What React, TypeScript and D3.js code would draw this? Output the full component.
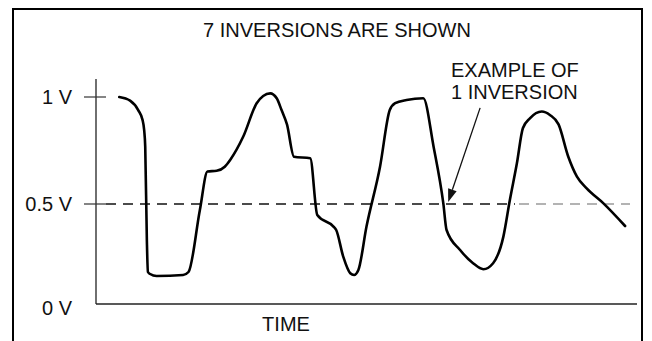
import * as d3 from 'd3';

// Sensor voltage trace (time in arbitrary units 0-100, volts)
const times = [
  4.3, 6.3, 7.8, 8.6, 8.9, 9.1, 9.4, 9.6, 10.0, 11.2, 16.1, 17.1, 19.2, 20.6, 22.3, 23.8,
  24.8, 27.2, 29.7, 30.9, 32.2, 33.4, 34.3, 35.3, 36.6, 39.6, 40.9, 43.9, 44.4, 45.7, 47.0,
  47.7, 48.5, 50.0, 52.5, 54.3, 55.3, 57.4, 60.5, 62.4, 64.2, 64.8, 67.3, 69.7, 71.6, 73.4,
  75.3, 76.5, 77.8, 78.9, 80.2, 82.4, 83.9, 85.5, 87.3, 88.9, 90.7, 93.8, 97.8,
];
const volts = [
  1.0, 0.983, 0.939, 0.893, 0.846, 0.768, 0.32, 0.16, 0.15, 0.14, 0.145, 0.16, 0.47, 0.652,
  0.655, 0.674, 0.706, 0.814, 0.971, 1.005, 1.017, 0.994, 0.939, 0.872, 0.721, 0.714, 0.445,
  0.387, 0.37, 0.237, 0.154, 0.145, 0.17, 0.387, 0.674, 0.939, 0.971, 0.986, 0.994, 0.768,
  0.503, 0.37, 0.27, 0.204, 0.174, 0.204, 0.337, 0.519, 0.69, 0.854, 0.9, 0.932, 0.916, 0.872,
  0.721, 0.628, 0.573, 0.503, 0.39,
];

const yTicks = [0, 0.5, 1];
const yTickLabels = ['0 V', '0.5 V', '1 V'];
const threshold = 0.5;
const title = '7 INVERSIONS ARE SHOWN';
const xTitle = 'TIME';
const noteLines = ['EXAMPLE OF', '1 INVERSION'];
// arrow from the note down to one crossing of the 0.5 V line
const arrowFrom = { t: 71.0, v: 0.949 };
const arrowTo = { t: 65.1, v: 0.509 };

const W = 652;
const H = 341;
const FONT = '"Liberation Sans", Arial, Helvetica, sans-serif';

export default function App() {
  const x = d3.scaleLinear().domain([0, 100]).range([96, 637]);
  // the printed scale is not quite even between 0.5 V and 1 V
  const y = d3.scaleLinear().domain([0, 0.5, 1]).range([304, 204, 97]);

  const data = times.map((t, i) => ({ t, v: volts[i] }));
  const line = d3
    .line<{ t: number; v: number }>()
    .x((d) => x(d.t))
    .y((d) => y(d.v))
    .curve(d3.curveMonotoneX);

  const ax0 = x(0);
  const ax1 = x(100);
  const dashEnd = 630;
  const graySplit = 515;

  // arrowhead geometry
  const x1 = x(arrowFrom.t);
  const y1 = y(arrowFrom.v);
  const x2 = x(arrowTo.t);
  const y2 = y(arrowTo.v);
  const ang = Math.atan2(y2 - y1, x2 - x1);
  const headLen = 13;
  const headW = 4.5;
  const bx = x2 - headLen * Math.cos(ang);
  const by = y2 - headLen * Math.sin(ang);
  const head = [
    [x2, y2],
    [bx + headW * Math.sin(ang), by - headW * Math.cos(ang)],
    [bx - headW * Math.sin(ang), by + headW * Math.cos(ang)],
  ]
    .map((p) => p.join(','))
    .join(' ');

  return (
    <div style={{ position: 'absolute', left: 0, top: 0 }}>
      <svg width={W} height={H} style={{ display: 'block', background: '#fff' }} fontFamily={FONT}>
        <rect x={13} y={9} width={629} height={H + 10} fill="none" stroke="#000" strokeWidth={2} />

        <text x={337} y={37} textAnchor="middle" fontSize={20} fill="#111">
          {title}
        </text>

        {/* axes */}
        <line x1={ax0} x2={ax0} y1={79} y2={y(0)} stroke="#333" strokeWidth={1.4} />
        <line x1={ax0} x2={ax1} y1={y(0)} y2={y(0)} stroke="#222" strokeWidth={1.6} />
        {yTicks.map((v, i) => (
          <g key={v}>
            {v > 0 && (
              <line x1={ax0 - 12} x2={ax0 + 10} y1={y(v)} y2={y(v)} stroke="#333" strokeWidth={1.2} />
            )}
            <text
              x={ax0 - 24}
              y={y(v)}
              dy={v === 0 ? '0.55em' : '0.35em'}
              textAnchor="end"
              fontSize={20}
              fill="#111"
            >
              {yTickLabels[i]}
            </text>
          </g>
        ))}

        {/* 0.5 V reference line */}
        <line x1={ax0 + 10} x2={graySplit} y1={y(threshold)} y2={y(threshold)} stroke="#111" strokeWidth={1.3} strokeDasharray="10,7" />
        <line x1={graySplit + 4} x2={dashEnd} y1={y(threshold)} y2={y(threshold)} stroke="#9a9a9a" strokeWidth={1.3} strokeDasharray="10,7" />

        <path d={line(data) ?? ''} fill="none" stroke="#000" strokeWidth={2.6} strokeLinejoin="round" strokeLinecap="round" />

        {/* annotation */}
        {noteLines.map((s, i) => (
          <text key={s} x={451} y={77 + i * 22} fontSize={20} fill="#111">
            {s}
          </text>
        ))}
        <line x1={x1} y1={y1} x2={bx} y2={by} stroke="#111" strokeWidth={1.3} />
        <polygon points={head} fill="#111" />

        <text x={286} y={331} textAnchor="middle" fontSize={20} fill="#111">
          {xTitle}
        </text>
      </svg>
    </div>
  );
}
